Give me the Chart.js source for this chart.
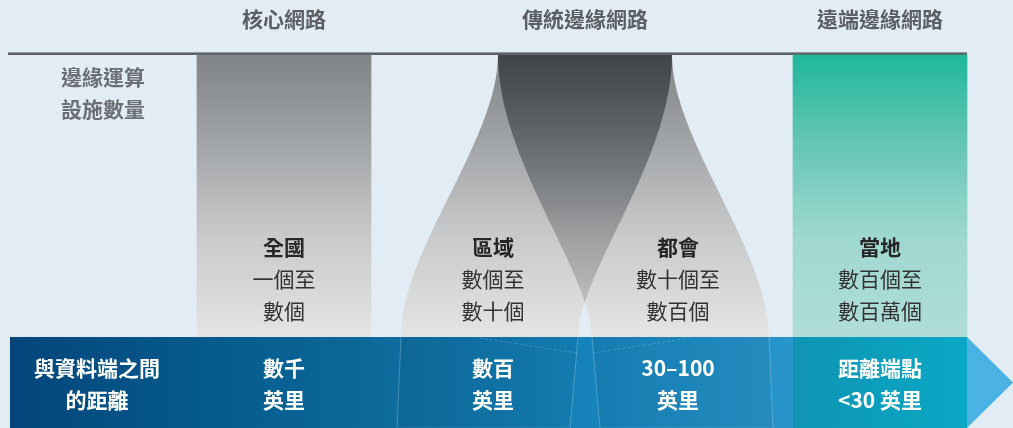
<!DOCTYPE html>
<html>
<head>
<meta charset="utf-8">
<script src="https://cdn.jsdelivr.net/npm/chart.js@4.4.1/dist/chart.umd.min.js"></script>
<style>
  html, body { margin: 0; padding: 0; background: #e2ecf5; }
  #c { display: block; }
</style>
</head>
<body>
<canvas id="c" width="1013" height="428"></canvas>
<script>
// --- data ---
const tierNames = ['核心網路', '傳統邊緣網路', '遠端邊緣網路'];
const rowTitles = [['邊緣運算', '設施數量'], ['與資料端之間', '的距離']];
const siteTypes = ['全國', '區域', '都會', '當地'];
const siteCounts = [['一個至', '數個'], ['數個至', '數十個'], ['數十個至', '數百個'], ['數百個至', '數百萬個']];
const siteDistances = [['數千', '英里'], ['數百', '英里'], ['30–100', '英里'], ['距離端點', '<30 英里']];

// --- layout (canvas units) ---
const colCenters = [284, 493, 678, 880];
const tierCenters = [284, 585, 880];
const colTop = 55, bandTop = 337, bandBottom = 428;
const FONT = '"Noto Sans CJK TC", "Noto Sans", sans-serif';

const grayStops = [[0, 'rgb(128,131,135)'], [0.3, 'rgb(160,163,166)'], [0.65, 'rgb(201,202,203)'], [1, 'rgb(228,228,228)']];
const tealStops = [[0, '#1fb89b'], [0.3, '#63c5b4'], [0.65, '#9fd8d0'], [1, '#b0ddd9']];

function vGrad(chart, stops) {
  const { ctx, chartArea, scales } = chart;
  if (!chartArea) return stops[0][1];
  const g = ctx.createLinearGradient(0, scales.y.getPixelForValue(colTop), 0, scales.y.getPixelForValue(bandTop));
  stops.forEach(s => g.addColorStop(s[0], s[1]));
  return g;
}

// one leaning tube of the traditional edge, mirrored for the metro one
function tubePath(ctx, X, Y, mirror) {
  const m = v => mirror ? 1170 - v : v;
  ctx.beginPath();
  ctx.moveTo(X(m(498)), Y(colTop));
  ctx.bezierCurveTo(X(m(498)), Y(140), X(m(401)), Y(250), X(m(401)), Y(bandTop));
  ctx.lineTo(X(m(397)), Y(bandBottom));
  ctx.lineTo(X(m(570)), Y(bandBottom));
  ctx.lineTo(X(m(578)), Y(bandTop));
  ctx.bezierCurveTo(X(m(580)), Y(270), X(m(672)), Y(160), X(m(672)), Y(colTop));
  ctx.closePath();
}

const edgeLayers = {
  id: 'edgeLayers',
  beforeDatasetsDraw(chart) {
    const { ctx, scales: { x, y } } = chart;
    const X = v => x.getPixelForValue(v), Y = v => y.getPixelForValue(v);
    ctx.save();
    ctx.fillStyle = '#5c6066';
    ctx.fillRect(X(8), Y(52.4), X(967) - X(8), Y(55) - Y(52.4));

    const g = vGrad(chart, grayStops);
    ctx.fillStyle = g;
    tubePath(ctx, X, Y, false); ctx.fill();
    tubePath(ctx, X, Y, true); ctx.fill();
    ctx.save();
    tubePath(ctx, X, Y, false); ctx.clip();
    ctx.globalCompositeOperation = 'multiply';
    tubePath(ctx, X, Y, true); ctx.fill();
    ctx.restore();
    ctx.restore();
  },
  afterDatasetsDraw(chart) {
    const { ctx, scales: { x, y } } = chart;
    const X = v => x.getPixelForValue(v), Y = v => y.getPixelForValue(v);
    ctx.save();

    // distance band
    const bg = ctx.createLinearGradient(X(10), 0, X(793), 0);
    bg.addColorStop(0, '#03457a');
    bg.addColorStop(0.239, '#06598c');
    bg.addColorStop(0.47, '#0d6a9b');
    bg.addColorStop(0.734, '#1582ba');
    bg.addColorStop(1, '#2896cb');
    ctx.fillStyle = bg;
    ctx.fillRect(X(10), Y(bandTop), X(793) - X(10), Y(bandBottom) - Y(bandTop));
    const tg = ctx.createLinearGradient(X(793), 0, X(967), 0);
    tg.addColorStop(0, '#0f94b4');
    tg.addColorStop(1, '#0aa8c5');
    ctx.fillStyle = tg;
    ctx.fillRect(X(793), Y(bandTop), X(967) - X(793), Y(bandBottom) - Y(bandTop));

    // tubes seen through the band
    ctx.save();
    ctx.beginPath();
    ctx.rect(X(10), Y(bandTop), X(793) - X(10), Y(bandBottom - 0.6) - Y(bandTop));
    ctx.clip();
    ctx.fillStyle = 'rgba(20,40,60,0.07)';
    tubePath(ctx, X, Y, false); ctx.fill();
    ctx.strokeStyle = 'rgba(255,255,255,0.3)'; ctx.lineWidth = 0.8; ctx.stroke();
    tubePath(ctx, X, Y, true); ctx.fill(); ctx.stroke();
    ctx.setLineDash([3, 2]);
    ctx.strokeStyle = 'rgba(255,255,255,0.22)';
    ctx.beginPath();
    ctx.moveTo(X(480), Y(338)); ctx.lineTo(X(577), Y(353));
    ctx.moveTo(X(593), Y(353)); ctx.lineTo(X(690), Y(338));
    ctx.stroke();
    ctx.restore();

    // arrow head
    ctx.fillStyle = '#4bb3e4';
    ctx.beginPath();
    ctx.moveTo(X(967), Y(bandTop));
    ctx.lineTo(X(1013), Y((bandTop + bandBottom) / 2));
    ctx.lineTo(X(967), Y(bandBottom));
    ctx.closePath();
    ctx.fill();

    // texts
    ctx.textAlign = 'center';
    ctx.textBaseline = 'middle';
    ctx.font = 'bold 21px ' + FONT;
    ctx.fillStyle = '#5b5f63';
    tierNames.forEach((t, i) => ctx.fillText(t, X(tierCenters[i]), Y(19)));
    ctx.fillStyle = '#6b6f73';
    rowTitles[0].forEach((t, i) => ctx.fillText(t, X(103), Y(77 + i * 32)));
    ctx.fillStyle = '#ffffff';
    rowTitles[1].forEach((t, i) => ctx.fillText(t, X(97), Y(368 + i * 32)));
    siteDistances.forEach((d, c) => d.forEach((t, i) => ctx.fillText(t, X(colCenters[c]), Y(368 + i * 32))));
    ctx.fillStyle = '#262626';
    siteTypes.forEach((t, c) => ctx.fillText(t, X(colCenters[c]), Y(247)));
    ctx.font = '21px ' + FONT;
    ctx.fillStyle = '#333333';
    siteCounts.forEach((d, c) => d.forEach((t, i) => ctx.fillText(t, X(colCenters[c]), Y(279 + i * 32))));
    ctx.restore();
  }
};

new Chart(document.getElementById('c'), {
  type: 'bar',
  data: {
    datasets: [
      { label: tierNames[0], data: [{ x: colCenters[0], y: [colTop, bandTop] }],
        backgroundColor: c => vGrad(c.chart, grayStops), barThickness: 174, borderWidth: 0 },
      { label: tierNames[2], data: [{ x: colCenters[3], y: [colTop, bandTop] }],
        backgroundColor: c => vGrad(c.chart, tealStops), barThickness: 174, borderWidth: 0 }
    ]
  },
  options: {
    responsive: false,
    animation: false,
    devicePixelRatio: 1,
    layout: { padding: 0 },
    datasets: { bar: { grouped: false } },
    plugins: { legend: { display: false }, tooltip: { enabled: false } },
    scales: {
      x: { type: 'linear', min: 0, max: 1013, offset: false, display: false },
      y: { type: 'linear', min: 0, max: 428, reverse: true, display: false }
    }
  },
  plugins: [edgeLayers]
});
</script>
</body>
</html>
